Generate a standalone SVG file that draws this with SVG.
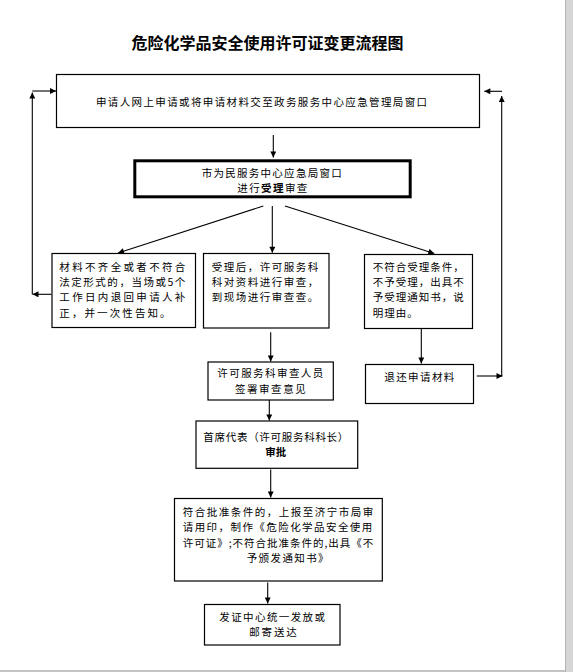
<svg xmlns="http://www.w3.org/2000/svg" width="573" height="672" viewBox="0 0 573 672">
<style>
.bx{fill:#fff;stroke:#000;stroke-width:1.2}
.thk{fill:#fff;stroke:#000;stroke-width:3}
.t{font-family:"Noto Sans CJK SC","Noto Sans",sans-serif;font-size:10.5px;fill:#000}
.b{font-weight:bold}
.ttl{font-family:"Noto Sans CJK SC","Noto Sans",sans-serif;font-size:16px;font-weight:bold;fill:#000}
.c{fill:none;stroke:#000;stroke-width:1.1;marker-end:url(#ah)}
</style>
<defs>
<marker id="ah" viewBox="0 0 10 10" refX="10" refY="5" markerWidth="7" markerHeight="6" markerUnits="userSpaceOnUse" orient="auto">
<path d="M0,0 L10,5 L0,10 z" fill="#000"/>
</marker>
</defs>
<rect x="0" y="0" width="573" height="672" fill="#fff"/>
<rect x="565" y="0" width="8" height="672" fill="#d6d6d6"/>
<line x1="565.5" y1="0" x2="565.5" y2="672" stroke="#b4b4b4" stroke-width="1"/>
<rect x="0" y="670" width="565" height="2" fill="#c4c4c4"/>

<text class="ttl" x="131.6" y="48.8" textLength="272" lengthAdjust="spacing">危险化学品安全使用许可证变更流程图</text>

<g id="connectors">
<path class="c" d="M273.3,135 V157.5"/>
<path class="c" d="M263.3,206 L118,253"/>
<path class="c" d="M272.3,206 V252.8"/>
<path class="c" d="M285,206 L434.3,253.5"/>
<path class="c" d="M51.5,294.3 H32.5"/>
<path class="c" d="M32.3,294.3 V92.5"/>
<path class="c" d="M32.3,91 H56"/>
<path class="c" d="M421.3,328.5 V363.5"/>
<path class="c" d="M476.7,376 H502.5"/>
<path class="c" d="M501.7,376 V96"/>
<path class="c" d="M502,91.3 H484.3"/>
<path class="c" d="M270.7,332.3 V361.5"/>
<path class="c" d="M269.3,400 V420.5"/>
<path class="c" d="M270.7,469.5 V497.5"/>
<path class="c" d="M267.7,582.5 V603.5"/>
</g>

<g id="node-apply">
<rect class="bx" x="56.5" y="74.5" width="423" height="53"/>
<text class="t" x="96" y="106" textLength="331" lengthAdjust="spacing">申请人网上申请或将申请材料交至政务服务中心应急管理局窗口</text>
</g>

<g id="node-accept">
<rect class="thk" x="134.8" y="160.8" width="275.4" height="36"/>
<text class="t" x="201.7" y="176.7" textLength="140" lengthAdjust="spacing">市为民服务中心应急局窗口</text>
<text class="t" x="237.3" y="192.3" textLength="70" lengthAdjust="spacing">进行<tspan class="b">受理</tspan>审查</text>
</g>

<g id="node-incomplete">
<rect class="bx" x="52" y="253.5" width="143.5" height="74"/>
<text class="t" x="59.3" y="270.5" textLength="126" lengthAdjust="spacing">材料不齐全或者不符合</text>
<text class="t" x="59.3" y="285.5" textLength="126" lengthAdjust="spacing">法定形式的，当场或5个</text>
<text class="t" x="59.3" y="301" textLength="126" lengthAdjust="spacing">工作日内退回申请人补</text>
<text class="t" x="59.3" y="316.7" style="letter-spacing:2.1px">正，并一次性告知。</text>
</g>

<g id="node-review">
<rect class="bx" x="203.5" y="253.5" width="125.5" height="74.5"/>
<text class="t" x="211.7" y="270.5" style="letter-spacing:1.5px">受理后，许可服务科</text>
<text class="t" x="211.7" y="285.5" style="letter-spacing:1.5px">科对资料进行审查，</text>
<text class="t" x="211.7" y="301" style="letter-spacing:1.5px">到现场进行审查查。</text>
</g>

<g id="node-reject">
<rect class="bx" x="364.5" y="254.5" width="108" height="74"/>
<text class="t" x="372.7" y="270.5" style="letter-spacing:1px">不符合受理条件，</text>
<text class="t" x="372.7" y="285.5" style="letter-spacing:1px">不予受理，出具不</text>
<text class="t" x="372.7" y="301" style="letter-spacing:1px">予受理通知书，说</text>
<text class="t" x="372.7" y="316.7" style="letter-spacing:1px">明理由。</text>
</g>

<g id="node-return">
<rect class="bx" x="365.5" y="364.5" width="108" height="39"/>
<text class="t" x="384.3" y="380.7" textLength="70" lengthAdjust="spacing">退还申请材料</text>
</g>

<g id="node-opinion">
<rect class="bx" x="208" y="362" width="125.3" height="38"/>
<text class="t" x="217.3" y="377.3" textLength="106" lengthAdjust="spacing">许可服务科审查人员</text>
<text class="t" x="235" y="393" textLength="70.7" lengthAdjust="spacing">签署审查意见</text>
</g>

<g id="node-approve">
<rect class="bx" x="196" y="421" width="161.7" height="47.3"/>
<text class="t" x="203.3" y="440.7" textLength="145" lengthAdjust="spacing">首席代表（许可服务科科长）</text>
<text class="t b" x="275.7" y="455.7" text-anchor="middle">审批</text>
</g>

<g id="node-issue">
<rect class="bx" x="174.5" y="498.5" width="207.8" height="82.5"/>
<text class="t" x="182.7" y="515.5" textLength="190.6" lengthAdjust="spacing">符合批准条件的，上报至济宁市局审</text>
<text class="t" x="182.7" y="531" textLength="189.6" lengthAdjust="spacing">请用印，制作《危险化学品安全使用</text>
<text class="t" x="182.7" y="546.5" textLength="190.6" lengthAdjust="spacing">许可证》;不符合批准条件的,出具《不</text>
<text class="t" x="246.7" y="562" style="letter-spacing:1.4px">予颁发通知书》</text>
</g>

<g id="node-deliver">
<rect class="bx" x="204.5" y="604.5" width="135.5" height="40.5"/>
<text class="t" x="219.3" y="620.7" textLength="105.7" lengthAdjust="spacing">发证中心统一发放或</text>
<text class="t" x="249.3" y="635.7" textLength="47.4" lengthAdjust="spacing">邮寄送达</text>
</g>
</svg>
